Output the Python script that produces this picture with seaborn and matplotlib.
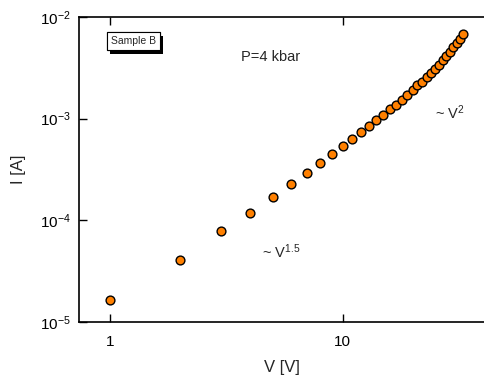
import numpy as np
import pandas as pd
import matplotlib
matplotlib.use("Agg")
import matplotlib.pyplot as plt
import matplotlib.patheffects as pe
from matplotlib.ticker import FixedLocator, NullLocator
import seaborn as sns

# data (V in volts, I in amps)
voltage = list(range(1, 34))
current = [1.65e-5, 4.07e-5, 7.87e-5, 1.18e-4, 1.69e-4, 2.26e-4, 2.92e-4,
           3.69e-4, 4.5e-4, 5.4e-4, 6.31e-4, 7.4e-4, 8.53e-4, 9.7e-4,
           1.09e-3, 1.23e-3, 1.37e-3, 1.54e-3, 1.71e-3, 1.91e-3, 2.13e-3,
           2.31e-3, 2.55e-3, 2.81e-3, 3.08e-3, 3.40e-3, 3.78e-3, 4.14e-3,
           4.5e-3, 5.07e-3, 5.58e-3, 6.12e-3, 6.76e-3]
x_ticks = [1, 10]
x_tick_labels = ["1", "10"]
y_ticks = [1e-5, 1e-4, 1e-3, 1e-2]
y_tick_labels = [r"10$^{-5}$", r"10$^{-4}$", r"10$^{-3}$", r"10$^{-2}$"]

df = pd.DataFrame({"V": voltage, "I": current})

sns.set_style("ticks")
plt.rcParams["font.family"] = ["Liberation Sans", "DejaVu Sans"]
plt.rcParams["mathtext.fontset"] = "custom"
plt.rcParams["mathtext.rm"] = "Liberation Sans"
plt.rcParams["mathtext.it"] = "Liberation Sans"
plt.rcParams["mathtext.default"] = "regular"

fig = plt.figure(figsize=(4.85, 3.75), dpi=100)
ax = fig.add_axes([0.163, 0.141, 0.837, 0.814])

sns.scatterplot(data=df, x="V", y="I", ax=ax, color="#FF8000",
                edgecolor="black", linewidth=1.0, s=40, zorder=3)

ax.set_xscale("log")
ax.set_yscale("log")
ax.set_xlim(0.736, 41)
ax.set_ylim(1e-5, 1e-2)

ax.xaxis.set_major_locator(FixedLocator(x_ticks))
ax.set_xticklabels(x_tick_labels)
ax.yaxis.set_major_locator(FixedLocator(y_ticks))
ax.set_yticklabels(y_tick_labels)
ax.xaxis.set_minor_locator(NullLocator())
ax.yaxis.set_minor_locator(NullLocator())

ax.tick_params(axis="both", which="major", direction="in", length=6,
               width=1, labelsize=11, color="black", labelcolor="black",
               top=True, right=False)
ax.tick_params(axis="x", pad=9)
ax.tick_params(axis="y", pad=6)

for side in ["left", "bottom", "top"]:
    ax.spines[side].set_linewidth(1.2)
    ax.spines[side].set_color("black")
ax.spines["right"].set_visible(False)

ax.set_xlabel("V [V]", fontsize=12, labelpad=8)
ax.set_ylabel("I [A]", fontsize=12, labelpad=10)

# annotations
t = ax.text(0.078, 0.92, "Sample B", transform=ax.transAxes, fontsize=7.5,
            ha="left", va="center",
            bbox=dict(boxstyle="square,pad=0.4", fc="white", ec="black", lw=0.8))
t.get_bbox_patch().set_path_effects([
    pe.withSimplePatchShadow(offset=(2.5, -2.5), shadow_rgbFace="black", alpha=1.0),
    pe.Normal()])

ax.text(0.40, 0.867, "P=4 kbar", transform=ax.transAxes, fontsize=10.5,
        ha="left", va="center")
ax.text(0.877, 0.685, r"~ V$^{2}$", transform=ax.transAxes, fontsize=10.5,
        ha="left", va="center")
ax.text(0.45, 0.230, r"~ V$^{1.5}$", transform=ax.transAxes, fontsize=10.5,
        ha="left", va="center")

fig.savefig("out.png", dpi=100)
